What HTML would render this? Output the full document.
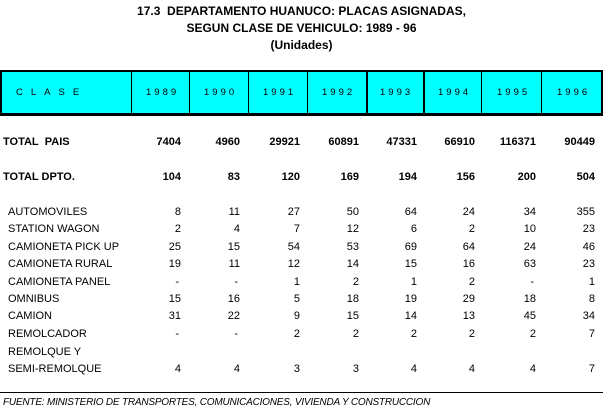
<!DOCTYPE html>
<html><head><meta charset="utf-8"><style>
body{margin:0;width:603px;height:412px;background:#fff;position:relative;overflow:hidden;font-family:"Liberation Sans",Arial,sans-serif;color:#000}
.t{position:absolute;left:0;width:603px;text-align:center;font-weight:bold;font-size:12px}
.hdr{position:absolute;left:0;top:70px;width:599px;height:41px;background:#00ffff;border:2px solid #000;border-bottom-width:3px}
.v{position:absolute;top:0;height:41px;background:#000;width:1px}
.h{position:absolute;top:87px;font-size:9.5px;letter-spacing:3px}
.r{position:absolute;font-size:11px;height:14px;line-height:14px}
.n{position:absolute;font-size:11px;text-align:right;width:60px;line-height:14px}
.b{font-weight:bold}
</style></head><body>
<div class="t" style="top:4px">17.3&nbsp; DEPARTAMENTO HUANUCO: PLACAS ASIGNADAS,</div>
<div class="t" style="top:21px">SEGUN CLASE DE VEHICULO: 1989 - 96</div>
<div class="t" style="top:38px">(Unidades)</div>
<div class="hdr">
<div class="v" style="left:129px"></div><div class="v" style="left:187px"></div><div class="v" style="left:246px"></div><div class="v" style="left:305px"></div><div class="v" style="left:364px;width:2px"></div><div class="v" style="left:421px;width:2px"></div><div class="v" style="left:479px"></div><div class="v" style="left:539px"></div>
</div>
<div class="h" style="left:16px;letter-spacing:8px">CLASE</div>
<div class="h" style="left:146px">1989</div><div class="h" style="left:204px">1990</div><div class="h" style="left:263px">1991</div><div class="h" style="left:322px">1992</div><div class="h" style="left:380px">1993</div><div class="h" style="left:438px">1994</div><div class="h" style="left:497px">1995</div><div class="h" style="left:557px">1996</div>
<div id="rows"></div>
<div style="position:absolute;left:0;top:392px;width:603px;height:1px;background:#000"></div>
<div style="position:absolute;left:3px;top:397px;font-size:10px;font-style:italic;letter-spacing:-0.2px">FUENTE: MINISTERIO DE TRANSPORTES, COMUNICACIONES, VIVIENDA Y CONSTRUCCION</div>
<script>
var R=[181,240,300,359,417,475,536,595];
var rows=[
["TOTAL  PAIS",135,1,["7404","4960","29921","60891","47331","66910","116371","90449"]],
["TOTAL DPTO.",170,1,["104","83","120","169","194","156","200","504"]],
["AUTOMOVILES",205,0,["8","11","27","50","64","24","34","355"]],
["STATION WAGON",222,0,["2","4","7","12","6","2","10","23"]],
["CAMIONETA PICK UP",240,0,["25","15","54","53","69","64","24","46"]],
["CAMIONETA RURAL",257,0,["19","11","12","14","15","16","63","23"]],
["CAMIONETA PANEL",275,0,["-","-","1","2","1","2","-","1"]],
["OMNIBUS",292,0,["15","16","5","18","19","29","18","8"]],
["CAMION",309,0,["31","22","9","15","14","13","45","34"]],
["REMOLCADOR",327,0,["-","-","2","2","2","2","2","7"]],
["REMOLQUE Y",345,0,[]],
["SEMI-REMOLQUE",362,0,["4","4","3","3","4","4","4","7"]]];
var h="";
rows.forEach(function(r){
var cls=r[2]?" b":"";
h+='<div class="r'+cls+'" style="left:'+(r[2]?3:8)+'px;top:'+r[1]+'px">'+r[0].replace(/  /g,"&nbsp; ")+'</div>';
r[3].forEach(function(v,i){var x=R[i]+(v=="-"?-2:0);h+='<div class="n'+cls+'" style="left:'+(x-60)+'px;top:'+r[1]+'px">'+v+'</div>';});
});
document.getElementById("rows").innerHTML=h;
</script>
</body></html>
